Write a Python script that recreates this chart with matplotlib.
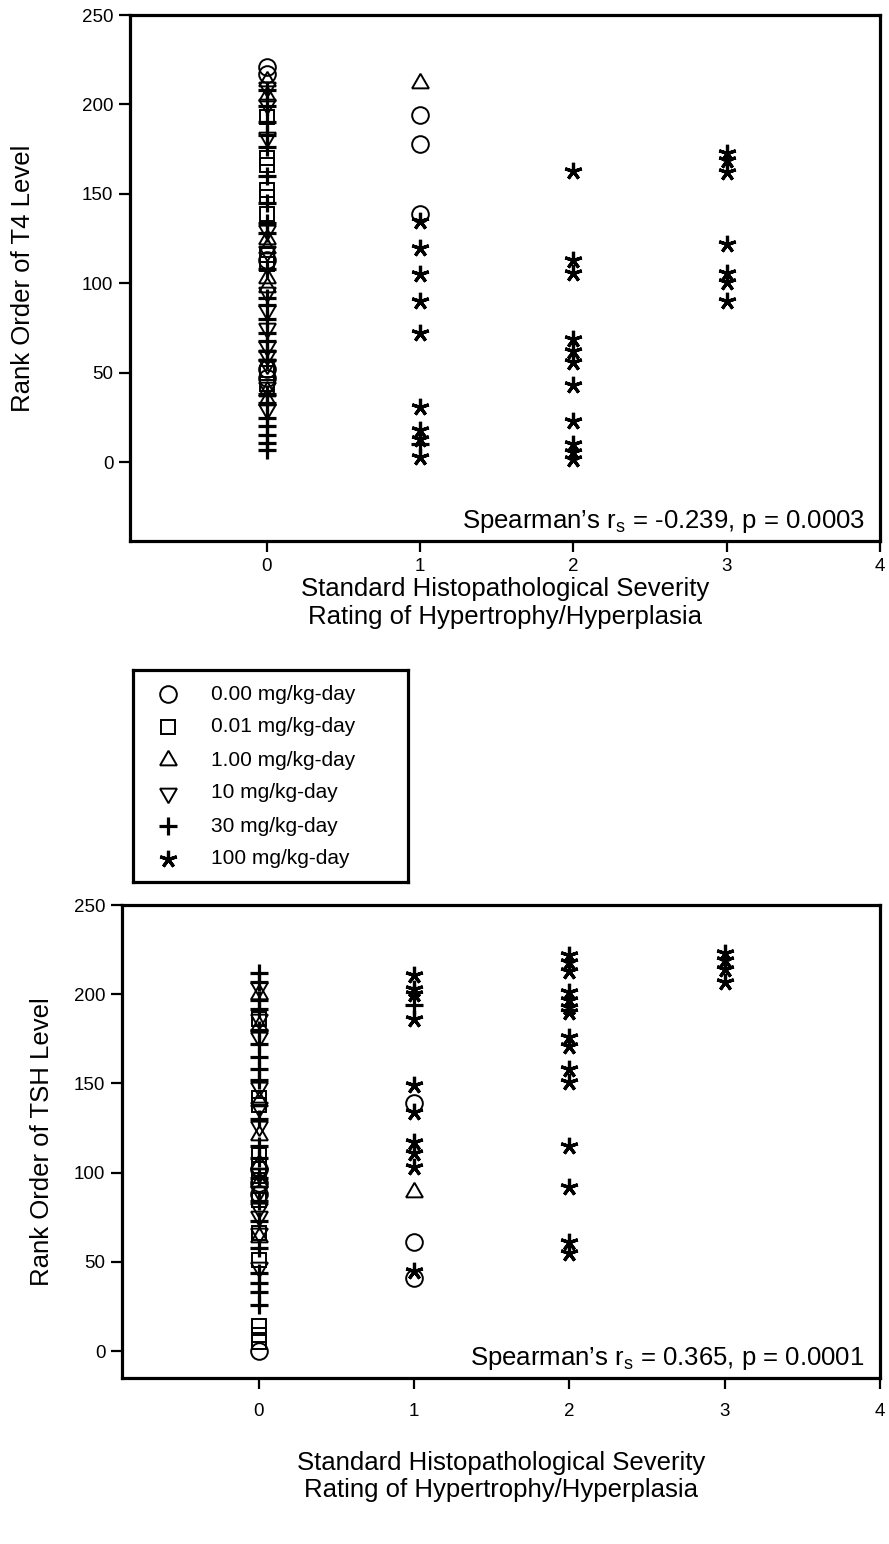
import matplotlib
matplotlib.use("Agg")
import matplotlib.pyplot as plt

plt.rcParams["font.family"] = ["Liberation Sans", "DejaVu Sans"]
plt.rcParams["mathtext.fontset"] = "custom"
plt.rcParams["mathtext.rm"] = "Liberation Sans"
plt.rcParams["mathtext.it"] = "Liberation Sans:italic"

# ---- dose groups -------------------------------------------------------
DOSE_LABELS = ["0.00 mg/kg-day", "0.01 mg/kg-day", "1.00 mg/kg-day",
               "10 mg/kg-day", "30 mg/kg-day", "100 mg/kg-day"]

# ---- T4 panel: severity rating and rank of T4 level per dose group -----
T4_D000_SEV = [0, 0, 0, 0, 0, 1, 1, 1]
T4_D000_RANK = [221, 217, 113, 52, 47, 194, 178, 139]

T4_D001_SEV = [0] * 10
T4_D001_RANK = [193, 170, 166, 152, 148, 139, 116, 111, 50, 44]

T4_D100_SEV = [0, 0, 0, 0, 0, 0, 0, 0, 1]
T4_D100_RANK = [213, 205, 125, 120, 103, 98, 40, 35, 212]

T4_D10_SEV = [0] * 13
T4_D10_RANK = [210, 200, 182, 130, 118, 95, 85, 75, 65, 60, 55, 42, 30]

T4_D30_SEV = [0] * 24 + [1]
T4_D30_RANK = [208, 199, 190, 183, 176, 160, 145, 134, 128, 108, 92, 88,
               80, 72, 68, 62, 57, 38, 33, 25, 20, 15, 11, 7, 10]

T4_D1000_SEV = [1] * 9 + [2] * 11 + [3] * 7
T4_D1000_RANK = [135, 120, 105, 90, 72, 31, 18, 13, 3,
                 163, 113, 106, 69, 62, 56, 43, 23, 10, 6, 2,
                 173, 169, 162, 122, 106, 101, 90]

# ---- TSH panel: severity rating and rank of TSH level per dose group ----
TSH_D000_SEV = [0, 0, 0, 0, 1, 1, 1]
TSH_D000_RANK = [0, 88, 94, 102, 139, 61, 41]

TSH_D001_SEV = [0] * 12
TSH_D001_RANK = [14, 9, 5, 51, 66, 85, 98, 104, 110, 138, 142, 186]

TSH_D100_SEV = [0] * 7 + [1]
TSH_D100_RANK = [121, 140, 182, 200, 64, 95, 105, 89]

TSH_D10_SEV = [0] * 12
TSH_D10_RANK = [204, 186, 176, 148, 137, 126, 100, 90, 80, 76, 66, 47]

TSH_D30_SEV = [0] * 20 + [1]
TSH_D30_RANK = [212, 207, 197, 192, 180, 172, 165, 158, 152, 130, 115, 108,
                97, 84, 73, 58, 44, 38, 33, 26, 194]

TSH_D1000_SEV = [1] * 10 + [2] * 15 + [3] * 4
TSH_D1000_RANK = [211, 203, 200, 186, 149, 134, 117, 111, 103, 45,
                  222, 218, 213, 201, 197, 193, 190, 176, 171, 158, 151,
                  115, 92, 61, 55,
                  223, 219, 214, 207]

SEV_TICKS = [0, 1, 2, 3, 4]
RANK_TICKS = [0, 50, 100, 150, 200, 250]

# marker style for each dose group
STYLES = [
    dict(marker="o", markersize=12, markerfacecolor="none", markeredgewidth=1.4),
    dict(marker="s", markersize=10, markerfacecolor="none", markeredgewidth=1.4),
    dict(marker=(3, 0, 0), markersize=14, markerfacecolor="none", markeredgewidth=1.4),
    dict(marker=(3, 0, 180), markersize=14, markerfacecolor="none", markeredgewidth=1.4),
    dict(marker="+", markersize=13, markeredgewidth=2.3),
    dict(marker=(5, 2, 0), markersize=12.5, markeredgewidth=2.3),
]

LW = 2.3

fig = plt.figure(figsize=(8.89, 15.44), dpi=100)
W, H = 889.0, 1544.0


def frame_axes(ax, xtick_pad):
    for s in ax.spines.values():
        s.set_linewidth(LW)
        s.set_color("black")
    ax.tick_params(direction="out", length=8, width=1.6, labelsize=13.5,
                   top=False, right=False, pad=4)
    ax.tick_params(axis="x", pad=xtick_pad)
    ax.set_xticks(SEV_TICKS)
    ax.set_yticks(RANK_TICKS)


def panel(ax, series, ylabel, note, ylim, xlim, ypad, xpad, xtick_pad):
    for (sev, rank), st in zip(series, STYLES):
        ax.plot(sev, rank, linestyle="none", color="black",
                markeredgecolor="black", clip_on=False, **st)
    ax.set_xlim(*xlim)
    ax.set_ylim(*ylim)
    frame_axes(ax, xtick_pad)
    ax.set_ylabel(ylabel, fontsize=18.5, labelpad=ypad)
    ax.set_xlabel("Standard Histopathological Severity\n"
                  "Rating of Hypertrophy/Hyperplasia",
                  fontsize=18.5, labelpad=xpad, linespacing=1.2)
    ax.text(0.98, 0.012, note, transform=ax.transAxes, ha="right",
            va="bottom", fontsize=18.5)


ax1 = fig.add_axes([130 / W, 1 - 541 / H, 750 / W, 526 / H])
panel(ax1,
      [(T4_D000_SEV, T4_D000_RANK), (T4_D001_SEV, T4_D001_RANK),
       (T4_D100_SEV, T4_D100_RANK), (T4_D10_SEV, T4_D10_RANK),
       (T4_D30_SEV, T4_D30_RANK), (T4_D1000_SEV, T4_D1000_RANK)],
      "Rank Order of T4 Level",
      "Spearman\u2019s r$_\\mathrm{s}$ = -0.239, p = 0.0003",
      (-44, 250), (-0.89, 4.0), ypad=34, xpad=2, xtick_pad=4)

ax2 = fig.add_axes([122 / W, 1 - 1378 / H, 758 / W, 473 / H])
panel(ax2,
      [(TSH_D000_SEV, TSH_D000_RANK), (TSH_D001_SEV, TSH_D001_RANK),
       (TSH_D100_SEV, TSH_D100_RANK), (TSH_D10_SEV, TSH_D10_RANK),
       (TSH_D30_SEV, TSH_D30_RANK), (TSH_D1000_SEV, TSH_D1000_RANK)],
      "Rank Order of TSH Level",
      "Spearman\u2019s r$_\\mathrm{s}$ = 0.365, p = 0.0001",
      (-15, 250), (-0.88, 4.0), ypad=14, xpad=22, xtick_pad=10)

# legend box between the panels
axl = fig.add_axes([133 / W, 1 - 882 / H, 275 / W, 212 / H])
axl.set_xlim(0, 275)
axl.set_ylim(212, 0)
axl.set_xticks([])
axl.set_yticks([])
for s in axl.spines.values():
    s.set_linewidth(LW)
for i, (label, st) in enumerate(zip(DOSE_LABELS, STYLES)):
    row = 24 + 33 * i
    axl.plot([35], [row], linestyle="none", color="black",
             markeredgecolor="black", **st)
    axl.text(78, row, label, fontsize=15, va="center", ha="left")

fig.savefig("out.png", dpi=100)
